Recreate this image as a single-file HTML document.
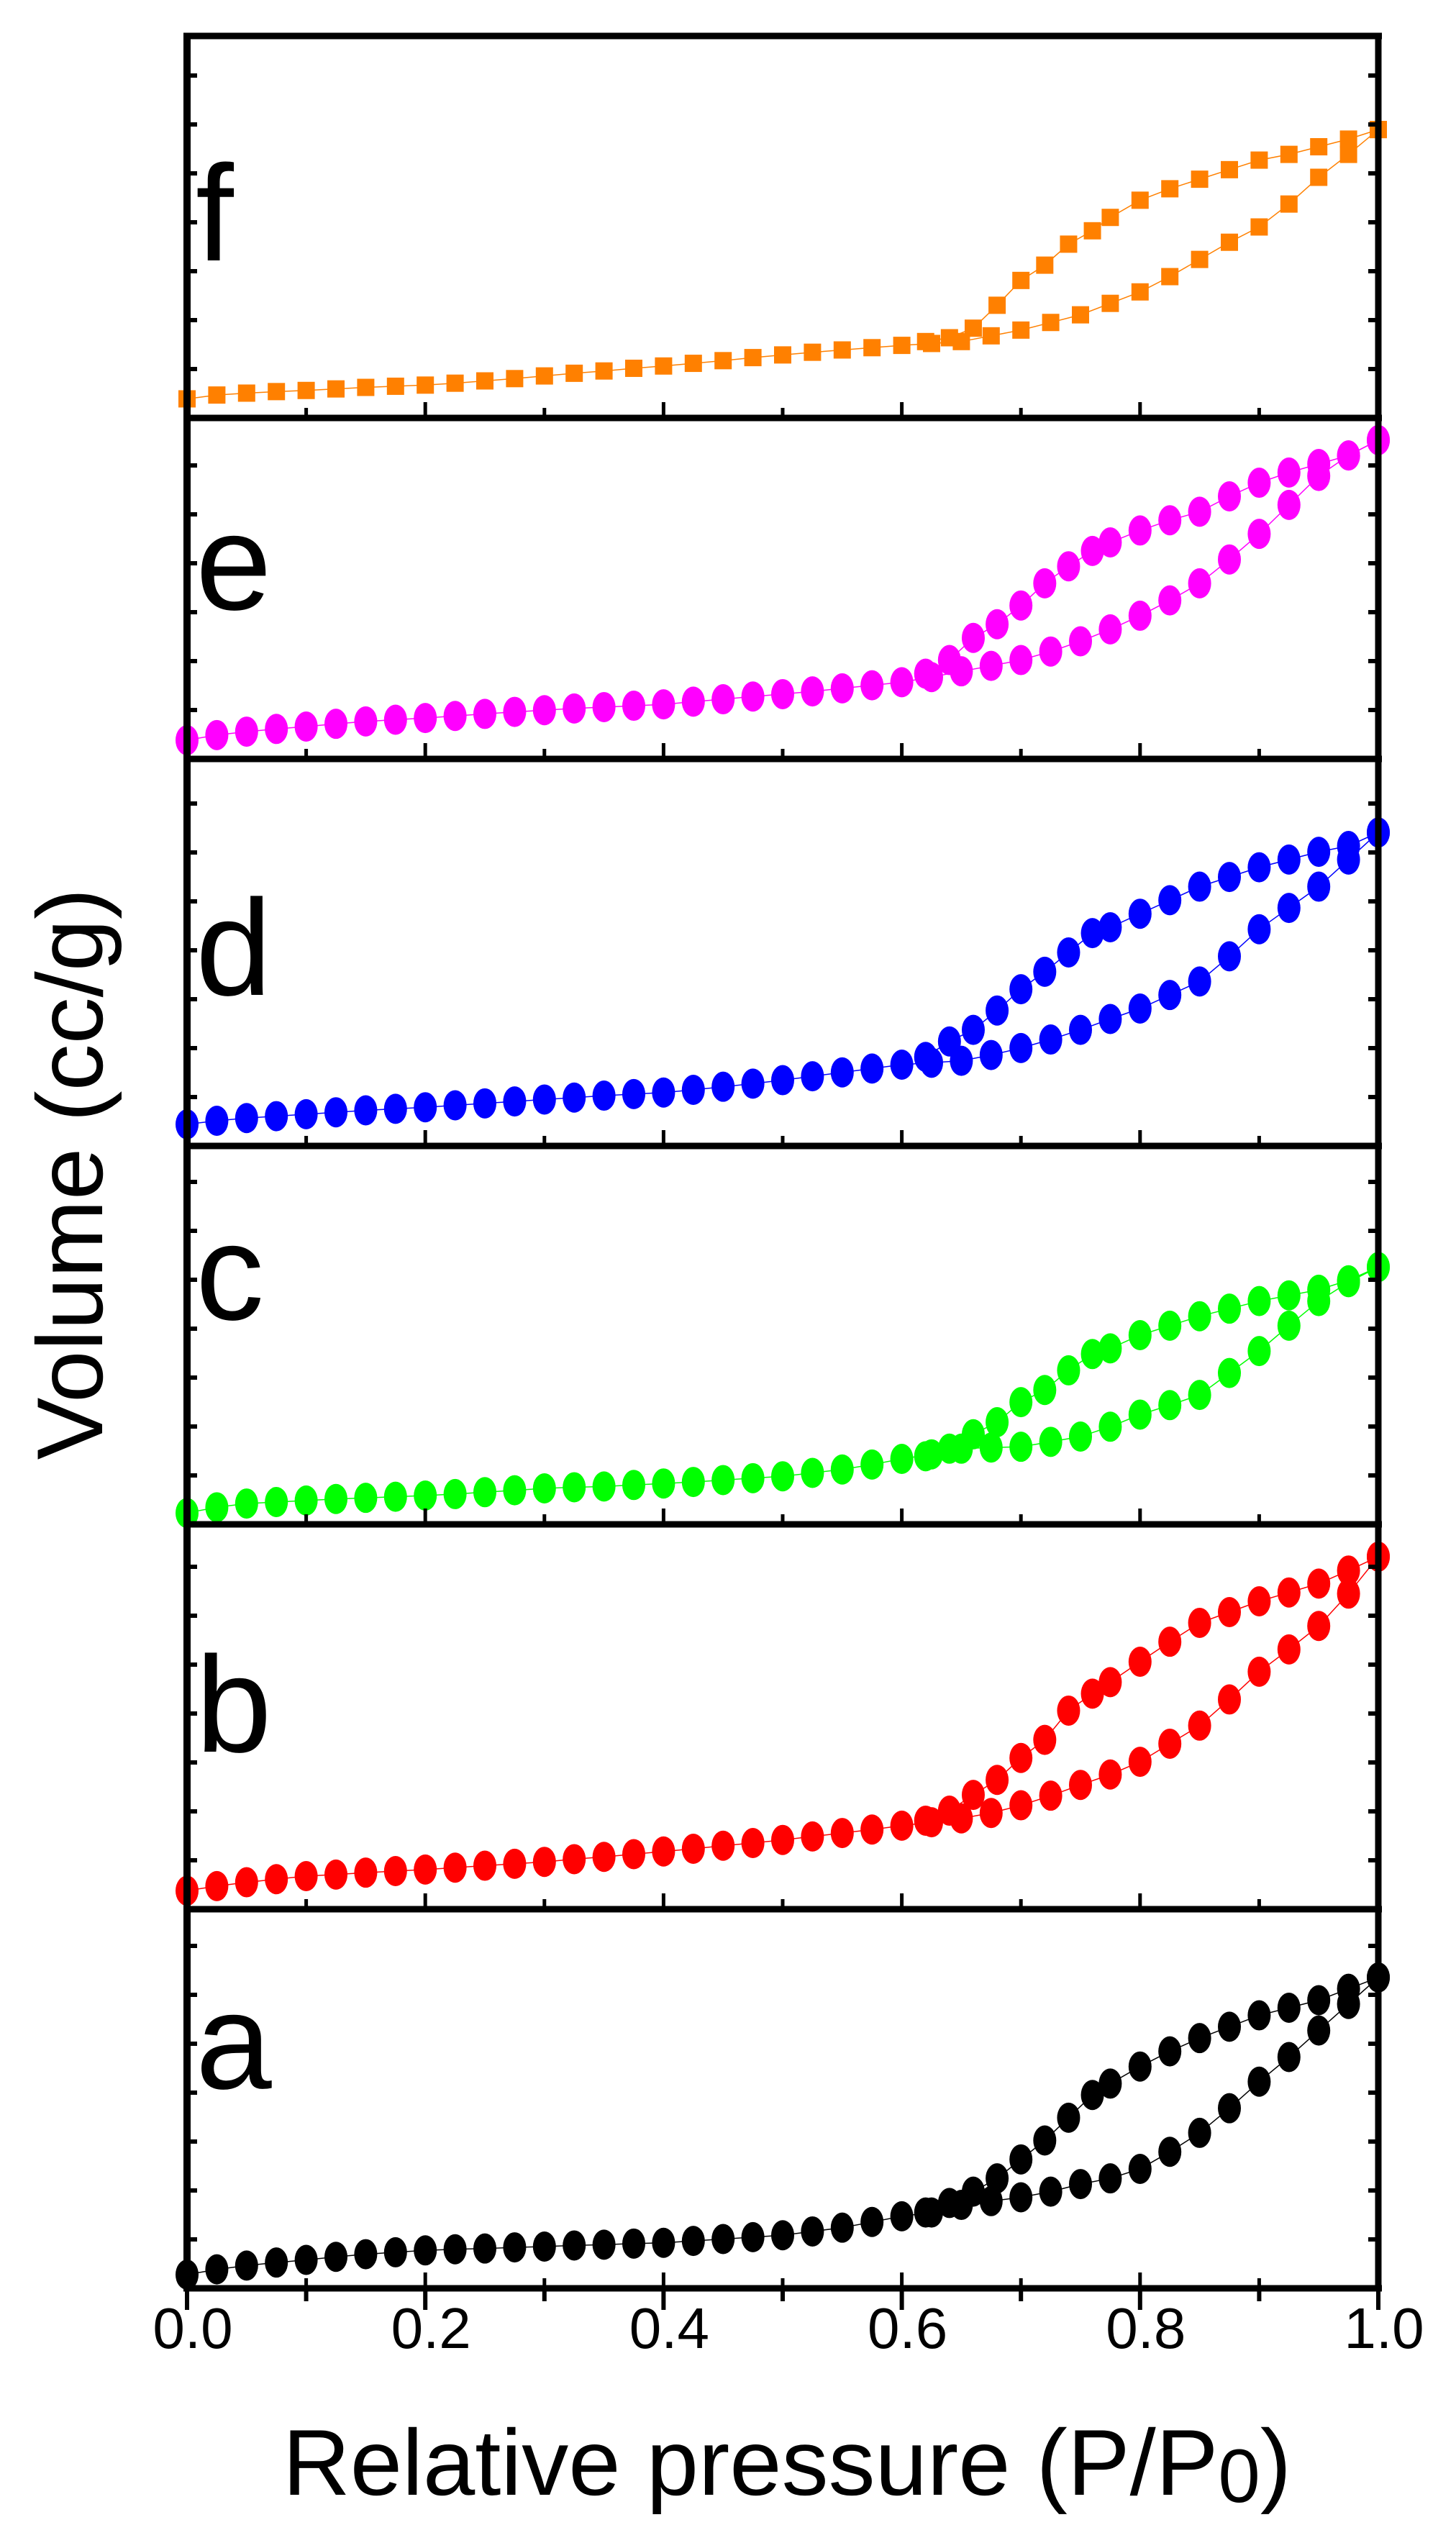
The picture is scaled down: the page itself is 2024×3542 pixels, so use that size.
<!DOCTYPE html>
<html><head><meta charset="utf-8"><style>
html,body{margin:0;padding:0;background:#fff;}
svg{display:block;font-family:"Liberation Sans",Arial,sans-serif;}
</style></head><body>
<svg id="chart" width="2024" height="3542" viewBox="0 0 2024 3542" xmlns="http://www.w3.org/2000/svg">
<rect width="2024" height="3542" fill="#fff"/>
<g id="marks"></g>
<g id="frame"></g>
<text x="0" y="0" font-size="130" text-anchor="middle" transform="translate(142,1632) rotate(-90)">Volume (cc/g)</text>
<text x="1094" y="3468" font-size="130" text-anchor="middle">Relative pressure (P/P<tspan font-size="105" dy="10">0</tspan><tspan dy="-10">)</tspan></text>
</svg>
<script>
const adsX=[0,0.025,0.05,0.075,0.1,0.125,0.15,0.175,0.2,0.225,0.25,0.275,0.3,0.325,0.35,0.375,0.4,0.425,0.45,0.475,0.5,0.525,0.55,0.575,0.6,0.625,0.65,0.675,0.7,0.725,0.75,0.775,0.8,0.825,0.85,0.875,0.9,0.925,0.95,0.975,1.0];
const desX=[1.0,0.975,0.95,0.925,0.9,0.875,0.85,0.825,0.8,0.775,0.76,0.74,0.72,0.7,0.68,0.66,0.64,0.62];
const adsA=[0.036,0.05,0.06,0.068,0.075,0.083,0.09,0.095,0.10,0.103,0.105,0.108,0.11,0.113,0.115,0.118,0.12,0.125,0.13,0.135,0.14,0.15,0.16,0.175,0.19,0.20,0.22,0.23,0.24,0.255,0.275,0.29,0.315,0.36,0.41,0.475,0.545,0.61,0.68,0.75,0.82];
const desA=[0.82,0.79,0.76,0.74,0.72,0.69,0.66,0.625,0.585,0.54,0.51,0.45,0.39,0.34,0.29,0.255,0.225,0.20];
const adsB=[0.048,0.06,0.07,0.078,0.086,0.09,0.095,0.099,0.103,0.108,0.113,0.118,0.123,0.13,0.136,0.143,0.15,0.157,0.165,0.172,0.18,0.189,0.198,0.207,0.217,0.226,0.236,0.25,0.27,0.295,0.323,0.35,0.383,0.43,0.477,0.545,0.617,0.675,0.736,0.82,0.916];
const desB=[0.916,0.88,0.846,0.823,0.80,0.772,0.744,0.695,0.643,0.59,0.56,0.516,0.44,0.393,0.336,0.297,0.256,0.23];
const adsC=[0.03,0.045,0.055,0.059,0.063,0.067,0.07,0.073,0.076,0.08,0.085,0.09,0.095,0.098,0.1,0.104,0.108,0.112,0.117,0.122,0.127,0.136,0.145,0.158,0.173,0.185,0.2,0.203,0.205,0.218,0.232,0.258,0.29,0.315,0.342,0.4,0.458,0.525,0.59,0.64,0.68];
const desC=[0.68,0.645,0.62,0.605,0.59,0.57,0.55,0.525,0.5,0.465,0.45,0.407,0.355,0.323,0.27,0.238,0.2,0.18];
const adsD=[0.056,0.065,0.072,0.077,0.082,0.087,0.092,0.096,0.1,0.105,0.11,0.115,0.12,0.125,0.13,0.134,0.138,0.145,0.153,0.161,0.17,0.18,0.19,0.2,0.21,0.215,0.22,0.235,0.253,0.275,0.30,0.328,0.355,0.39,0.425,0.49,0.56,0.615,0.67,0.74,0.81];
const desD=[0.81,0.775,0.76,0.74,0.72,0.695,0.67,0.635,0.60,0.565,0.55,0.5,0.45,0.405,0.35,0.30,0.27,0.23];
const adsE=[0.055,0.07,0.08,0.088,0.095,0.103,0.11,0.115,0.12,0.126,0.132,0.138,0.143,0.148,0.152,0.156,0.16,0.168,0.175,0.183,0.19,0.198,0.207,0.216,0.225,0.24,0.257,0.273,0.29,0.315,0.345,0.38,0.42,0.465,0.515,0.585,0.66,0.745,0.83,0.89,0.935];
const desE=[0.935,0.89,0.865,0.84,0.81,0.77,0.725,0.70,0.67,0.635,0.61,0.565,0.515,0.45,0.395,0.355,0.29,0.25];
const adsF=[0.05,0.06,0.065,0.069,0.072,0.076,0.08,0.083,0.086,0.091,0.097,0.103,0.11,0.117,0.123,0.13,0.136,0.143,0.15,0.158,0.165,0.172,0.178,0.184,0.19,0.195,0.2,0.215,0.23,0.25,0.27,0.3,0.33,0.37,0.415,0.46,0.50,0.56,0.63,0.69,0.755];
const desF=[0.755,0.73,0.71,0.69,0.675,0.65,0.625,0.6,0.57,0.525,0.49,0.455,0.40,0.36,0.295,0.235,0.21,0.2];
const xTickValues=[0,0.1,0.2,0.3,0.4,0.5,0.6,0.7,0.8,0.9,1.0];
const xTickLabels=["0.0","0.2","0.4","0.6","0.8","1.0"];
const panelLetters=["f","e","d","c","b","a"];

const NS="http://www.w3.org/2000/svg";
const X0=260,X1=1916;
const panels=[
 {top:50,bottom:581,color:"#ff8000",ads:adsF,des:desF,sq:true,base:362},
 {top:581,bottom:1055,color:"#ff00ff",ads:adsE,des:desE,base:847},
 {top:1055,bottom:1593,color:"#0000ff",ads:adsD,des:desD,base:1383},
 {top:1593,bottom:2119,color:"#00ff00",ads:adsC,des:desC,base:1834},
 {top:2119,bottom:2654,color:"#ff0000",ads:adsB,des:desB,base:2435},
 {top:2654,bottom:3181,color:"#000000",ads:adsA,des:desA,base:2903}
];
function xs(v){return X0+v*(X1-X0);}
function mk(tag,attrs,parent){const e=document.createElementNS(NS,tag);for(const k in attrs)e.setAttribute(k,attrs[k]);parent.appendChild(e);return e;}
const marks=document.getElementById('marks');
const frame=document.getElementById('frame');
const svg=document.getElementById('chart');
panels.forEach((p,i)=>{
  const h=p.bottom-p.top;
  const ys=v=>p.bottom-v*h;
  const g=mk('g',{},marks);
  
  
  [[adsX,p.ads,'adsorption'],[desX,p.des,'desorption']].forEach(([xa,ya,nm])=>{
    const pts=xa.map((x,j)=>xs(x).toFixed(1)+','+ys(ya[j]).toFixed(1)).join(' ');
    const pl=mk('polyline',{points:pts,fill:'none',stroke:p.color,'stroke-width':1.5},g);
    
    
    xa.forEach((x,j)=>{
      let m;
      if(p.sq){m=mk('rect',{x:xs(x)-12,y:ys(ya[j])-12,width:24,height:24,fill:p.color},g);}
      else{m=mk('ellipse',{cx:xs(x),cy:ys(ya[j]),rx:16,ry:21,fill:p.color},g);}
      
      
    });
  });
  for(let y=p.bottom-68;y>p.top+20;y-=68){
    const t1=mk('line',{x1:X0,x2:X0+14,y1:y,y2:y,stroke:'#000','stroke-width':6},frame);
    
    
    const t2=mk('line',{x1:X1-14,x2:X1,y1:y,y2:y,stroke:'#000','stroke-width':6},frame);
    
    
  }
  xTickValues.forEach((v,k)=>{
    const len=(k%2===0)?22:14;
    const t=mk('line',{x1:xs(v),x2:xs(v),y1:p.bottom,y2:p.bottom-len,stroke:'#000','stroke-width':5},frame);
    
    
  });
  const sep=mk('line',{x1:X0-5,x2:X1+5,y1:p.bottom,y2:p.bottom,stroke:'#000','stroke-width':9},frame);
  
  
  const lt=mk('text',{x:272,y:p.base,'font-size':190},svg);
  lt.textContent=panelLetters[i];
  
  
});
const topAxis=mk('line',{x1:X0-5,x2:X1+5,y1:50,y2:50,stroke:'#000','stroke-width':9},frame);


const leftAxis=mk('line',{x1:X0,x2:X0,y1:46,y2:3185,stroke:'#000','stroke-width':10},frame);


const rightAxis=mk('line',{x1:X1,x2:X1,y1:46,y2:3185,stroke:'#000','stroke-width':9},frame);


xTickValues.forEach((v,k)=>{
  const len=(k%2===0)?30:18;
  const t=mk('line',{x1:xs(v),x2:xs(v),y1:3181,y2:3181+len,stroke:'#000','stroke-width':6},frame);
  
  
});
xTickLabels.forEach((s,k)=>{
  const t=mk('text',{x:xs(k*0.2)+8,y:3264,'font-size':80,'text-anchor':'middle'},svg);
  t.textContent=s;
  
  
});
</script>
</body></html>
